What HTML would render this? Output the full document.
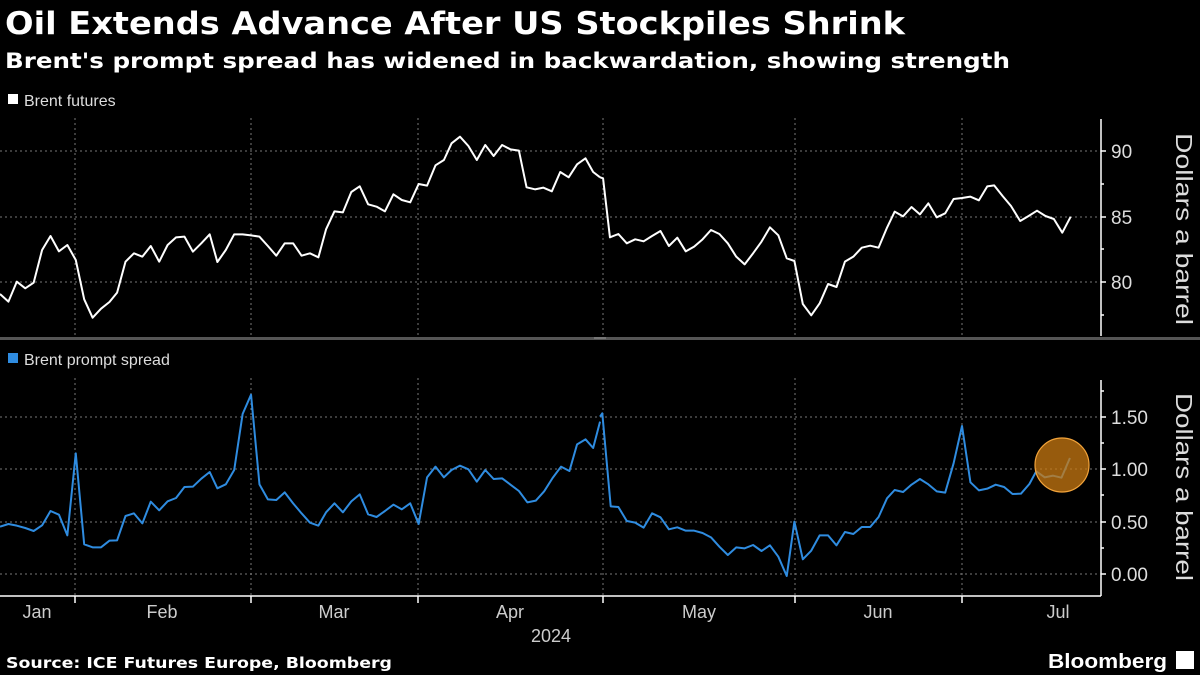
<!DOCTYPE html>
<html><head><meta charset="utf-8"><style>
html,body{margin:0;padding:0;background:#000;}
body{width:1200px;height:675px;overflow:hidden;font-family:"Liberation Sans",sans-serif;color:#fff;}
svg{position:absolute;left:0;top:0;}
</style></head><body>
<svg width="1200" height="675" viewBox="0 0 1200 675" xmlns="http://www.w3.org/2000/svg" font-family="Liberation Sans, sans-serif">
<rect width="1200" height="675" fill="#000"/>
<text x="5" y="34" font-size="31" font-weight="bold" fill="#fff" font-family="DejaVu Sans, sans-serif" textLength="900" lengthAdjust="spacingAndGlyphs">Oil Extends Advance After US Stockpiles Shrink</text>
<text x="5" y="68" font-size="21" font-weight="bold" fill="#fff" font-family="DejaVu Sans, sans-serif" textLength="1005" lengthAdjust="spacingAndGlyphs">Brent's prompt spread has widened in backwardation, showing strength</text>
<rect x="8" y="94" width="10" height="10" fill="#fff"/>
<text x="24" y="106" font-size="16" fill="#ddd">Brent futures</text>
<rect x="8" y="353" width="10" height="10" fill="#2f8ce0"/>
<text x="24" y="365" font-size="16" fill="#ddd">Brent prompt spread</text>
<g stroke="#777" stroke-width="1" stroke-dasharray="2,3">
<line x1="0" y1="151" x2="1101" y2="151"/><line x1="0" y1="217" x2="1101" y2="217"/><line x1="0" y1="282" x2="1101" y2="282"/>
<line x1="0" y1="417" x2="1101" y2="417"/><line x1="0" y1="469" x2="1101" y2="469"/><line x1="0" y1="522" x2="1101" y2="522"/><line x1="0" y1="574" x2="1101" y2="574"/>
<line x1="75" y1="118" x2="75" y2="336"/><line x1="251" y1="118" x2="251" y2="336"/><line x1="418" y1="118" x2="418" y2="336"/><line x1="603" y1="118" x2="603" y2="336"/><line x1="795" y1="118" x2="795" y2="336"/><line x1="962" y1="118" x2="962" y2="336"/>
<line x1="75" y1="378" x2="75" y2="596"/><line x1="251" y1="378" x2="251" y2="596"/><line x1="418" y1="378" x2="418" y2="596"/><line x1="603" y1="378" x2="603" y2="596"/><line x1="795" y1="378" x2="795" y2="596"/><line x1="962" y1="378" x2="962" y2="596"/>
</g>
<rect x="0" y="337" width="1200" height="3" fill="#555"/>
<line x1="594" y1="338" x2="606" y2="338" stroke="#999" stroke-width="1"/>
<g stroke="#fff" stroke-width="1.5">
<line x1="1101" y1="119" x2="1101" y2="336"/>
<line x1="1101" y1="380" x2="1101" y2="596"/>
<line x1="1101" y1="151" x2="1106" y2="151"/><line x1="1101" y1="217" x2="1106" y2="217"/><line x1="1101" y1="282" x2="1106" y2="282"/>
<line x1="1101" y1="184" x2="1104" y2="184"/><line x1="1101" y1="249" x2="1104" y2="249"/><line x1="1101" y1="315" x2="1104" y2="315"/>
<line x1="1101" y1="417" x2="1106" y2="417"/><line x1="1101" y1="469" x2="1106" y2="469"/><line x1="1101" y1="522" x2="1106" y2="522"/><line x1="1101" y1="574" x2="1106" y2="574"/>
<line x1="1101" y1="391" x2="1104" y2="391"/><line x1="1101" y1="443" x2="1104" y2="443"/><line x1="1101" y1="495" x2="1104" y2="495"/><line x1="1101" y1="548" x2="1104" y2="548"/>
<line x1="0" y1="596" x2="1101" y2="596"/>
<line x1="75" y1="596" x2="75" y2="603"/><line x1="251" y1="596" x2="251" y2="603"/><line x1="418" y1="596" x2="418" y2="603"/><line x1="603" y1="596" x2="603" y2="603"/><line x1="795" y1="596" x2="795" y2="603"/><line x1="962" y1="596" x2="962" y2="603"/>
</g>
<g font-size="19" fill="#ddd">
<text x="1111" y="158">90</text><text x="1111" y="224">85</text><text x="1111" y="289">80</text>
<text x="1111" y="424">1.50</text><text x="1111" y="476">1.00</text><text x="1111" y="529">0.50</text><text x="1111" y="581">0.00</text>
</g>
<text transform="translate(1176,229) rotate(90)" font-size="23" fill="#ddd" text-anchor="middle" textLength="192" lengthAdjust="spacingAndGlyphs">Dollars a barrel</text>
<text transform="translate(1176,487) rotate(90)" font-size="23" fill="#ddd" text-anchor="middle" textLength="188" lengthAdjust="spacingAndGlyphs">Dollars a barrel</text>
<g font-size="18" fill="#ccc" text-anchor="middle">
<text x="37" y="618">Jan</text><text x="162" y="618">Feb</text><text x="334" y="618">Mar</text><text x="510" y="618">Apr</text><text x="699" y="618">May</text><text x="878" y="618">Jun</text><text x="1058" y="618">Jul</text>
<text x="551" y="642">2024</text>
</g>
<text x="6" y="668" font-size="15" font-weight="bold" fill="#fff" font-family="DejaVu Sans, sans-serif" textLength="386" lengthAdjust="spacingAndGlyphs">Source: ICE Futures Europe, Bloomberg</text>
<text x="1048" y="668" font-size="20" font-weight="bold" fill="#fff" textLength="119" lengthAdjust="spacingAndGlyphs">Bloomberg</text>
<rect x="1176" y="651" width="18" height="18" fill="#fff"/>
<g fill="none" stroke="#fff" stroke-width="2" stroke-linejoin="round">
<polyline vector-effect="non-scaling-stroke" transform="translate(0,110) scale(0.38268,0.33333)" points="0,552 22,575 44,515 66,535 88,518 110,420 132,378 154,424 176,405 198,450 220,568 242,623 264,596 286,576 306,548 328,455 350,430 372,440 394,408 416,455 438,405 460,382 482,380 504,425 526,400 548,373 568,456 590,420 612,373 634,373 656,376 678,380 700,408 722,437 744,400 766,400 788,437 810,430 832,442 852,358 874,304 896,307 918,246 940,229 962,283 984,290 1006,304 1028,253 1050,270 1072,277 1094,222 1116,227 1138,166 1160,150 1180,100 1202,80 1224,108 1246,150 1268,105 1290,138 1312,105 1334,118 1356,122 1376,232 1398,238 1420,233 1442,244 1464,186 1486,202 1508,163 1530,145 1550,186 1568,202"/>
<polyline vector-effect="non-scaling-stroke" transform="translate(600,110) scale(0.38268,0.33333)" points="0,202 8,205 26,382 48,372 70,400 92,388 114,394 136,378 158,363 180,408 202,383 224,424 246,410 268,388 290,360 312,372 334,400 356,440 378,463 400,430 422,395 444,352 466,376 488,445 508,453 530,582 552,616 574,580 596,522 618,531 640,455 662,440 684,413 706,407 728,413 750,353 770,305 792,319 814,291 836,313 858,280 880,322 902,310 924,267 946,264 968,260 990,271 1012,229 1030,226 1052,258 1074,288 1098,333 1120,318 1142,302 1164,318 1186,327 1208,368 1230,320"/>
</g>
<g fill="none" stroke="#2f8ce0" stroke-width="2" stroke-linejoin="round">
<polyline vector-effect="non-scaling-stroke" transform="translate(0,380) scale(0.38268,0.33333)" points="0,440 22,432 44,437 66,444 88,453 110,436 132,393 154,404 176,466 198,220 220,493 242,502 264,502 286,482 306,481 328,408 350,400 372,430 394,365 416,391 438,364 460,354 482,321 504,320 526,296 548,276 568,325 590,313 612,270 634,102 656,44 678,313 700,358 722,360 744,337 766,370 788,400 810,428 832,437 852,397 874,370 896,397 918,364 940,343 962,403 984,411 1006,393 1028,374 1050,388 1072,370 1094,432 1116,292 1138,260 1160,292 1180,270 1202,257 1224,268 1246,305 1268,270 1290,297 1312,295 1334,314 1356,333 1378,367 1400,362 1422,334 1444,294 1466,260 1488,273 1508,193 1530,178 1550,204 1568,125"/>
<polyline vector-effect="non-scaling-stroke" transform="translate(600,380) scale(0.38268,0.33333)" points="0,110 6,100 28,379 48,381 70,423 92,428 114,443 136,400 158,412 180,448 202,442 224,452 246,452 268,459 290,472 312,500 334,525 356,502 378,505 400,495 422,513 444,496 466,530 488,588 508,425 530,538 552,512 574,466 596,466 618,496 640,456 662,462 684,441 706,441 728,411 750,355 770,330 792,336 814,314 836,297 858,313 880,334 902,338 924,250 946,138 968,307 990,331 1012,326 1034,314 1056,321 1078,342 1100,341 1122,312 1140,274 1162,292 1184,287 1206,293 1228,234"/>
</g>
<ellipse cx="1062" cy="465" rx="27" ry="27" fill="#c97a12" fill-opacity="0.75" stroke="#f2a33a" stroke-width="1.2"/>
</svg>
</body></html>
